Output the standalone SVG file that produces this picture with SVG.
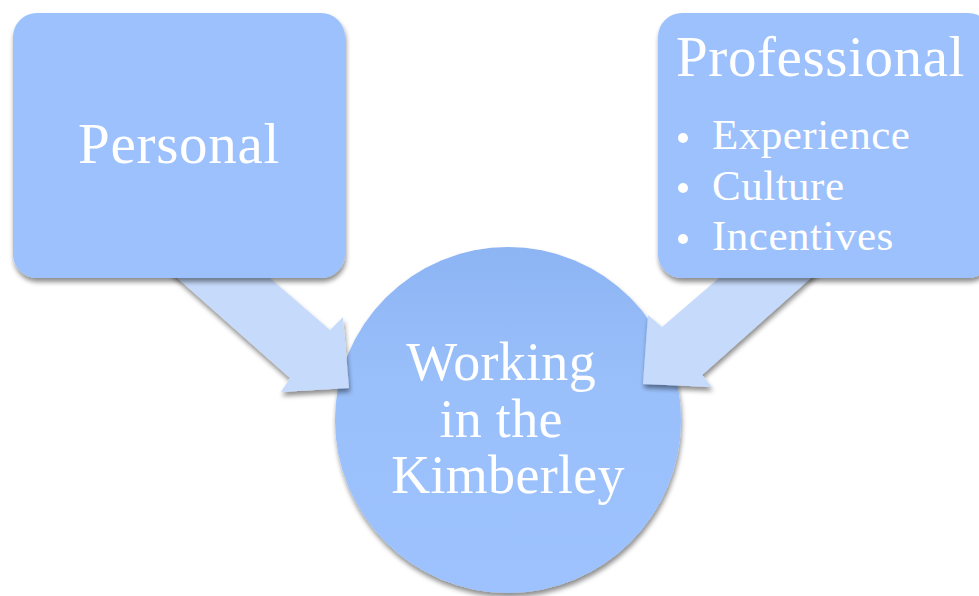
<svg xmlns="http://www.w3.org/2000/svg" width="979" height="596" viewBox="0 0 979 596">
  <defs>
    <filter id="shadow" x="-10%" y="-10%" width="120%" height="125%">
      <feGaussianBlur in="SourceAlpha" stdDeviation="2.5"/>
      <feOffset dx="1" dy="4" result="b"/>
      <feComponentTransfer><feFuncA type="linear" slope="0.45"/></feComponentTransfer>
      <feMerge><feMergeNode/><feMergeNode in="SourceGraphic"/></feMerge>
    </filter>
    <linearGradient id="hubFill" x1="0" y1="0" x2="0" y2="1">
      <stop offset="0" stop-color="#8DB4F3"/>
      <stop offset="0.4" stop-color="#9AC0FB"/>
      <stop offset="1" stop-color="#9DC2FD"/>
    </linearGradient>
  </defs>
  <style>
    .box { fill: #9CC1FC; filter: url(#shadow); }
    .arrow { fill: #C6DBFC; filter: url(#shadow); }
    .label { fill: #FFFFFF; font-family: "Liberation Serif", "Times New Roman", serif; }
    .bullet { fill: #FFFFFF; }
  </style>

  <rect width="979" height="596" fill="#FFFFFF"/>

  <!-- central hub -->
  <g id="hub">
    <circle cx="508" cy="420" r="173" fill="url(#hubFill)" filter="url(#shadow)"/>
    <text class="label" font-size="54" text-anchor="middle" letter-spacing="0.3">
      <tspan x="508" y="380">Working</tspan>
      <tspan x="508" y="437">in the</tspan>
      <tspan x="508" y="493">Kimberley</tspan>
    </text>
  </g>

  <!-- block arrows feeding the hub -->
  <g id="connectors">
    <polygon class="arrow" points="157,260 249,260 330,330 343,317 349,388 281,392 290,378"/>
    <polygon class="arrow" points="831,260 740,260 662,327 648,315 643,384 712,387 702,375"/>
  </g>

  <g id="personal">
    <rect class="box" x="13" y="13" width="332" height="265" rx="24" ry="24"/>
    <text class="label" x="179" y="163" font-size="57" text-anchor="middle" letter-spacing="0.7">Personal</text>
  </g>

  <g id="professional">
    <rect class="box" x="658" y="13" width="334" height="265" rx="24" ry="24"/>
    <text class="label" x="676" y="76" font-size="57" letter-spacing="0.6">Professional</text>
    <circle class="bullet" cx="683" cy="138" r="5"/>
    <circle class="bullet" cx="683" cy="188" r="5"/>
    <circle class="bullet" cx="683" cy="239" r="5"/>
    <text class="label" font-size="43" letter-spacing="0.5">
      <tspan x="712" y="149">Experience</tspan>
      <tspan x="712" y="200">Culture</tspan>
      <tspan x="712" y="250">Incentives</tspan>
    </text>
  </g>
</svg>
